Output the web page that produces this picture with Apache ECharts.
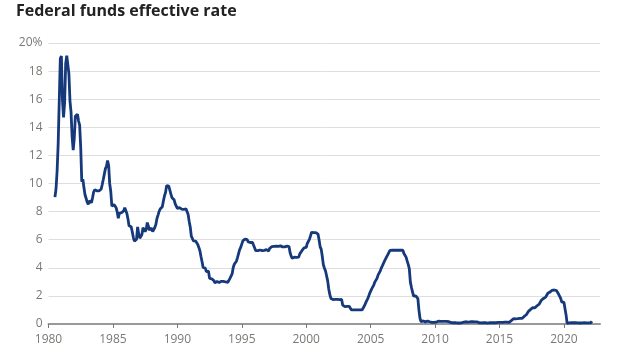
<!DOCTYPE html>
<html>
<head>
<meta charset="utf-8">
<script src="https://cdn.jsdelivr.net/npm/echarts@6/dist/echarts.min.js"></script>
<style>
html,body{margin:0;padding:0;background:#fff;}
#c{width:630px;height:362px;}
</style>
</head>
<body>
<div id="c"></div>
<script>
// Monthly effective federal funds rate, starting July 1980
var startYear = 1980, startMonth = 7;
var rates1980 = [9.03, 9.61, 10.87, 12.81, 15.85, 18.90];
var rates1981 = [19.08, 15.93, 14.70, 15.72, 18.52, 19.10, 19.04, 17.82, 15.87, 15.08, 13.31, 12.37];
var rates1982 = [13.22, 14.78, 14.68, 14.94, 14.45, 14.15, 12.59, 10.12, 10.31, 9.71, 9.20, 8.95];
var rates1983 = [8.68, 8.51, 8.77, 8.80, 8.63, 8.98, 9.37, 9.56, 9.45, 9.48, 9.34, 9.47];
var rates1984 = [9.56, 9.59, 9.91, 10.29, 10.32, 11.06, 11.23, 11.64, 11.30, 9.99, 9.43, 8.38];
var rates1985 = [8.35, 8.50, 8.58, 8.27, 7.97, 7.53, 7.88, 7.90, 7.92, 7.99, 8.05, 8.27];
var rates1986 = [8.14, 7.86, 7.48, 6.99, 6.85, 6.92, 6.56, 6.17, 5.89, 5.85, 6.04, 6.91];
var rates1987 = [6.43, 6.10, 6.13, 6.37, 6.85, 6.73, 6.58, 6.73, 7.22, 7.29, 6.69, 6.77];
var rates1988 = [6.83, 6.58, 6.58, 6.87, 7.09, 7.51, 7.75, 8.01, 8.19, 8.30, 8.35, 8.76];
var rates1989 = [9.12, 9.36, 9.85, 9.84, 9.81, 9.53, 9.24, 8.99, 9.02, 8.84, 8.55, 8.45];
var rates1990 = [8.23, 8.24, 8.28, 8.26, 8.18, 8.29, 8.15, 8.13, 8.20, 8.11, 7.81, 7.31];
var rates1991 = [6.91, 6.25, 6.12, 5.91, 5.78, 5.90, 5.82, 5.66, 5.45, 5.21, 4.81, 4.43];
var rates1992 = [4.03, 4.06, 3.98, 3.73, 3.82, 3.76, 3.25, 3.30, 3.22, 3.10, 3.09, 2.92];
var rates1993 = [3.02, 3.03, 3.07, 2.96, 3.00, 3.04, 3.06, 3.03, 3.09, 2.99, 3.02, 2.96];
var rates1994 = [3.05, 3.25, 3.34, 3.56, 4.01, 4.25, 4.26, 4.47, 4.73, 4.76, 5.29, 5.45];
var rates1995 = [5.53, 5.92, 5.98, 6.05, 6.01, 6.00, 5.85, 5.74, 5.80, 5.76, 5.80, 5.60];
var rates1996 = [5.56, 5.22, 5.31, 5.22, 5.24, 5.27, 5.40, 5.22, 5.30, 5.24, 5.31, 5.29];
var rates1997 = [5.25, 5.19, 5.39, 5.51, 5.50, 5.56, 5.52, 5.54, 5.54, 5.50, 5.52, 5.50];
var rates1998 = [5.56, 5.51, 5.49, 5.45, 5.49, 5.56, 5.54, 5.55, 5.51, 5.07, 4.83, 4.68];
var rates1999 = [4.63, 4.76, 4.81, 4.74, 4.74, 4.76, 4.99, 5.07, 5.22, 5.20, 5.42, 5.30];
var rates2000 = [5.45, 5.73, 5.85, 6.02, 6.27, 6.53, 6.54, 6.50, 6.52, 6.51, 6.51, 6.40];
var rates2001 = [5.98, 5.49, 5.31, 4.80, 4.21, 3.97, 3.77, 3.65, 3.07, 2.49, 2.09, 1.82];
var rates2002 = [1.73, 1.74, 1.73, 1.75, 1.75, 1.75, 1.73, 1.74, 1.75, 1.75, 1.34, 1.24];
var rates2003 = [1.24, 1.26, 1.25, 1.26, 1.26, 1.22, 1.01, 1.03, 1.01, 1.01, 1.00, 0.98];
var rates2004 = [1.00, 1.01, 1.00, 1.00, 1.00, 1.03, 1.26, 1.43, 1.61, 1.76, 1.93, 2.16];
var rates2005 = [2.28, 2.50, 2.63, 2.79, 3.00, 3.04, 3.26, 3.50, 3.62, 3.78, 4.00, 4.16];
var rates2006 = [4.29, 4.49, 4.59, 4.79, 4.94, 4.99, 5.24, 5.25, 5.25, 5.25, 5.25, 5.24];
var rates2007 = [5.25, 5.26, 5.26, 5.25, 5.25, 5.25, 5.26, 5.02, 4.94, 4.76, 4.49, 4.24];
var rates2008 = [3.94, 2.98, 2.61, 2.28, 1.98, 2.00, 2.01, 2.00, 1.81, 0.97, 0.39, 0.16];
var rates2009 = [0.15, 0.22, 0.18, 0.15, 0.18, 0.21, 0.16, 0.16, 0.15, 0.12, 0.12, 0.12];
var rates2010 = [0.11, 0.13, 0.16, 0.20, 0.20, 0.18, 0.18, 0.19, 0.19, 0.19, 0.19, 0.18];
var rates2011 = [0.17, 0.16, 0.14, 0.10, 0.09, 0.09, 0.07, 0.10, 0.08, 0.07, 0.08, 0.07];
var rates2012 = [0.08, 0.10, 0.13, 0.14, 0.16, 0.16, 0.16, 0.13, 0.14, 0.16, 0.16, 0.16];
var rates2013 = [0.14, 0.15, 0.14, 0.15, 0.11, 0.09, 0.09, 0.08, 0.08, 0.09, 0.08, 0.09];
var rates2014 = [0.07, 0.07, 0.08, 0.09, 0.09, 0.10, 0.09, 0.09, 0.09, 0.09, 0.09, 0.12];
var rates2015 = [0.11, 0.11, 0.11, 0.12, 0.12, 0.13, 0.13, 0.14, 0.14, 0.12, 0.12, 0.24];
var rates2016 = [0.34, 0.38, 0.36, 0.37, 0.37, 0.38, 0.39, 0.40, 0.40, 0.40, 0.41, 0.54];
var rates2017 = [0.65, 0.66, 0.79, 0.90, 0.91, 1.04, 1.15, 1.16, 1.15, 1.15, 1.16, 1.30];
var rates2018 = [1.41, 1.42, 1.51, 1.69, 1.70, 1.82, 1.91, 1.91, 1.95, 2.19, 2.20, 2.27];
var rates2019 = [2.40, 2.40, 2.41, 2.42, 2.39, 2.38, 2.40, 2.13, 2.04, 1.83, 1.55, 1.55];
var rates2020 = [1.55, 1.58, 0.65, 0.05, 0.05, 0.08, 0.09, 0.10, 0.09, 0.09, 0.09, 0.09];
var rates2021 = [0.09, 0.08, 0.07, 0.07, 0.06, 0.08, 0.10, 0.09, 0.08, 0.08, 0.08, 0.08];
var rates2022 = [0.08, 0.08, 0.20];

var xTickLabels = [1980, 1985, 1990, 1995, 2000, 2005, 2010, 2015, 2020];
var yTickLabels = [0, 2, 4, 6, 8, 10, 12, 14, 16, 18, 20];

var allRates = [].concat(rates1980, rates1981, rates1982, rates1983, rates1984, rates1985,
  rates1986, rates1987, rates1988, rates1989, rates1990, rates1991, rates1992, rates1993,
  rates1994, rates1995, rates1996, rates1997, rates1998, rates1999, rates2000, rates2001,
  rates2002, rates2003, rates2004, rates2005, rates2006, rates2007, rates2008, rates2009,
  rates2010, rates2011, rates2012, rates2013, rates2014, rates2015, rates2016, rates2017,
  rates2018, rates2019, rates2020, rates2021, rates2022);

var points = allRates.map(function (v, i) {
  return [startYear + (startMonth - 1 + i) / 12, v];
});

var labelColor = '#7c7874';
var chart = echarts.init(document.getElementById('c'), null, {renderer: 'canvas'});
chart.setOption({
  animation: false,
  title: {
    text: 'Federal funds effective rate',
    left: 16, top: 3, padding: 0,
    textStyle: {fontFamily: 'Open Sans', fontWeight: 'bold', fontSize: 16, color: '#222'}
  },
  grid: {left: 48.5, right: 30, top: 43, bottom: 38, containLabel: false},
  xAxis: {
    type: 'value',
    min: 1980, max: 2022.8,
    interval: 5,
    axisLine: {show: true, lineStyle: {color: '#999', width: 2}},
    axisTick: {show: true, length: 4, customValues: xTickLabels, lineStyle: {color: '#777', width: 1}},
    axisLabel: {
      customValues: xTickLabels,
      margin: 10,
      fontFamily: 'Open Sans', fontSize: 12, color: labelColor,
      formatter: function (v) { return String(Math.round(v)); }
    },
    splitLine: {show: false}
  },
  yAxis: {
    type: 'value',
    min: 0, max: 20, interval: 2,
    axisLine: {show: false},
    axisTick: {show: false},
    axisLabel: {
      margin: 6,
      fontFamily: 'Open Sans', fontSize: 12, color: labelColor,
      formatter: function (v) { return v === 20 ? '20%' : String(v); }
    },
    splitLine: {lineStyle: {color: '#dedede', width: 1}}
  },
  series: [{
    type: 'line',
    data: points,
    showSymbol: false,
    lineStyle: {color: '#15397a', width: 2.8},
    smooth: false
  }]
});
</script>
</body>
</html>
